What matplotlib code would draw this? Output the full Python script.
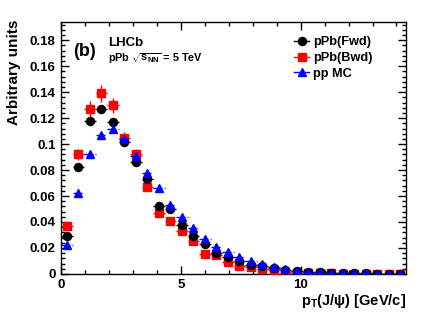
import numpy as np
import matplotlib
matplotlib.use("Agg")
import matplotlib.pyplot as plt
from matplotlib.lines import Line2D
from matplotlib.ticker import MultipleLocator, FormatStrFormatter

plt.rcParams["font.family"] = ["Liberation Sans", "DejaVu Sans"]
plt.rcParams["font.weight"] = "bold"
plt.rcParams["mathtext.fontset"] = "custom"
plt.rcParams["mathtext.rm"] = "Liberation Sans:bold"
plt.rcParams["mathtext.bf"] = "Liberation Sans:bold"
plt.rcParams["mathtext.it"] = "Liberation Sans:bold"

# bin centres in pT (GeV/c), bin width 0.48
pt = [0.24, 0.72, 1.20, 1.68, 2.16, 2.64, 3.12, 3.60, 4.08, 4.56,
      5.04, 5.52, 6.00, 6.48, 6.96, 7.44, 7.92, 8.40, 8.88, 9.36,
      9.84, 10.32, 10.80, 11.28, 11.76, 12.24, 12.72, 13.20, 13.68, 14.16]
half_bin = [0.24] * len(pt)

fwd = [0.029, 0.082, 0.118, 0.127, 0.117, 0.102, 0.086, 0.073, 0.052, 0.050,
       0.038, 0.029, 0.023, 0.0165, 0.0128, 0.0102, 0.0070, 0.0060, 0.0042, 0.0030,
       0.0020, 0.0015, 0.0012, 0.0009, 0.0007, 0.0005, 0.0004, 0.0003, 0.0002, 0.0002]
fwd_err = [0.0012, 0.0018, 0.0022, 0.0022, 0.0022, 0.0020, 0.0018, 0.0016, 0.0014, 0.0013,
           0.0012, 0.0010, 0.0009, 0.0008, 0.0007, 0.0006, 0.0005, 0.0005, 0.0004, 0.0004,
           0.0003, 0.0003, 0.0003, 0.0002, 0.0002, 0.0002, 0.0002, 0.0001, 0.0001, 0.0001]

bwd = [0.037, 0.092, 0.127, 0.139, 0.130, 0.105, 0.092, 0.067, 0.047, 0.041,
       0.033, 0.025, 0.015, 0.0146, 0.0090, 0.0063, 0.0053, 0.0037, 0.0027, 0.0016,
       0.0008, 0.0006, 0.0005, 0.0004, 0.0003, 0.0003, 0.0002, 0.0002, 0.0001, 0.0001]
bwd_err = [0.0025, 0.0045, 0.0060, 0.0068, 0.0058, 0.0045, 0.0040, 0.0032, 0.0026, 0.0022,
           0.0020, 0.0017, 0.0013, 0.0012, 0.0010, 0.0008, 0.0007, 0.0006, 0.0005, 0.0004,
           0.0003, 0.0003, 0.0003, 0.0002, 0.0002, 0.0002, 0.0002, 0.0001, 0.0001, 0.0001]

ppmc = [0.022, 0.062, 0.092, 0.107, 0.112, 0.104, 0.091, 0.078, 0.066, 0.053,
        0.044, 0.035, 0.027, 0.021, 0.017, 0.013, 0.0098, 0.0075, 0.0056, 0.0036,
        0.0024, 0.0018, 0.0011, 0.0008, 0.0006, 0.0005, 0.0004, 0.0003, 0.0003, 0.0002]
ppmc_err = [0.0005, 0.0008, 0.0010, 0.0010, 0.0010, 0.0010, 0.0009, 0.0008, 0.0008, 0.0007,
            0.0006, 0.0006, 0.0005, 0.0004, 0.0004, 0.0003, 0.0003, 0.0003, 0.0002, 0.0002,
            0.0002, 0.0001, 0.0001, 0.0001, 0.0001, 0.0001, 0.0001, 0.0001, 0.0001, 0.0001]

fig = plt.figure(figsize=(4.27, 3.2), dpi=100)
ax = fig.add_axes([0.143, 0.144, 0.808, 0.787])

# pPb(Bwd)
ax.errorbar(pt, bwd, xerr=half_bin, yerr=bwd_err, fmt="s", color="red",
            markersize=6.2, elinewidth=1.0, capsize=0, zorder=3)
# pPb(Fwd)
ax.errorbar(pt, fwd, xerr=half_bin, yerr=fwd_err, fmt="o", color="black",
            markersize=5.8, elinewidth=1.0, capsize=0, zorder=4)
# pp MC
eb = ax.errorbar(pt, ppmc, xerr=half_bin, yerr=ppmc_err, fmt="^", color="blue",
                 markersize=6.2, elinewidth=1.0, capsize=0, zorder=5)
for lc in eb[2]:
    lc.set_linestyle((0, (2.5, 1.5)))

ax.set_xlim(0, 14.4)
ax.set_ylim(0, 0.194)

ax.xaxis.set_major_locator(MultipleLocator(5))
ax.xaxis.set_minor_locator(MultipleLocator(1))
ax.yaxis.set_major_locator(MultipleLocator(0.02))
ax.yaxis.set_minor_locator(MultipleLocator(0.004))
ax.yaxis.set_major_formatter(FormatStrFormatter("%g"))
ax.tick_params(which="both", direction="in", top=True, right=True, labelsize=9.5, width=1.0)
ax.tick_params(axis="y", which="major", length=6, pad=4)
ax.tick_params(axis="y", which="minor", length=3)
ax.tick_params(axis="x", which="major", length=6, pad=3.5)
ax.tick_params(axis="x", which="minor", length=3)
for s in ax.spines.values():
    s.set_linewidth(1.0)

fig.text(14.5 / 427, 1 - 20 / 320, "Arbitrary units", rotation=90, ha="center", va="top",
         fontsize=11, fontweight="bold")
ax.set_xlabel(r"p$_{\mathbf{T}}$(J/ψ) [GeV/c]", fontsize=10.5, fontweight="bold", loc="right")
ax.xaxis.set_label_coords(1.0, -0.072)

ax.text(0.035, 0.885, "(b)", transform=ax.transAxes, fontsize=13, fontweight="bold", va="center")
ax.text(0.137, 0.917, "LHCb", transform=ax.transAxes, fontsize=9.5, fontweight="bold", va="center")
ax.text(0.137, 0.858, r"pPb $\sqrt{\mathbf{s}_{\mathbf{NN}}}$ = 5 TeV", transform=ax.transAxes,
        fontsize=7.8, fontweight="bold", va="center")

handles = [
    Line2D([], [], color="black", marker="o", markersize=5.8, lw=1.0),
    Line2D([], [], color="red", marker="s", markersize=6.2, lw=1.0),
    Line2D([], [], color="blue", marker="^", markersize=6.2, lw=1.0),
]
labels = ["pPb(Fwd)", "pPb(Bwd)", "pp MC"]
ax.legend(handles, labels, loc="upper left", bbox_to_anchor=(0.689, 0.887), bbox_transform=fig.transFigure,
          frameon=False, handlelength=1.15, handletextpad=0.35, labelspacing=0.3,
          borderpad=0, borderaxespad=0, prop={"weight": "bold", "size": 9.2})

fig.savefig("out.png", dpi=100)
